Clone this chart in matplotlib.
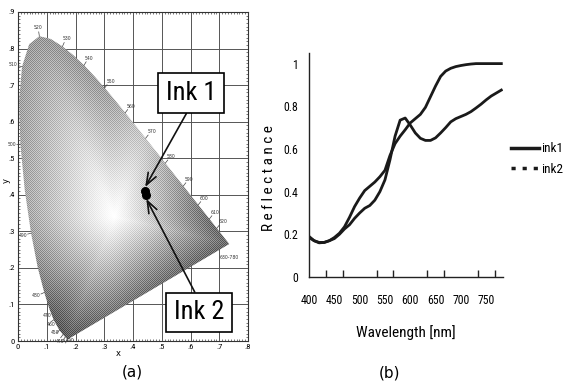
import numpy as np
import matplotlib
matplotlib.use('Agg')
import matplotlib.pyplot as plt
from matplotlib import font_manager
from matplotlib.path import Path
from matplotlib.patches import PathPatch
from matplotlib.lines import Line2D

# CIE 1931 spectral locus (xy chromaticity)
locus_nm = [380, 390, 400, 410, 420, 430, 440, 450, 460, 470, 475, 480, 485, 490, 495,
            500, 505, 510, 515, 520, 525, 530, 535, 540, 545, 550, 555, 560, 565, 570,
            575, 580, 585, 590, 595, 600, 610, 620, 630, 640, 650, 660, 680, 700]
locus_x = [0.1741, 0.1738, 0.1733, 0.1726, 0.1714, 0.1689, 0.1644, 0.1566, 0.1440, 0.1241,
           0.1096, 0.0913, 0.0687, 0.0454, 0.0235, 0.0082, 0.0039, 0.0139, 0.0389, 0.0743,
           0.1142, 0.1547, 0.1929, 0.2296, 0.2658, 0.3016, 0.3373, 0.3731, 0.4087, 0.4441,
           0.4788, 0.5125, 0.5448, 0.5752, 0.6029, 0.6270, 0.6658, 0.6915, 0.7079, 0.7190,
           0.7260, 0.7300, 0.7334, 0.7347]
locus_y = [0.0050, 0.0049, 0.0048, 0.0048, 0.0051, 0.0069, 0.0109, 0.0177, 0.0297, 0.0578,
           0.0868, 0.1327, 0.2007, 0.2950, 0.4127, 0.5384, 0.6548, 0.7502, 0.8120, 0.8338,
           0.8262, 0.8059, 0.7816, 0.7543, 0.7243, 0.6923, 0.6589, 0.6245, 0.5896, 0.5547,
           0.5202, 0.4866, 0.4544, 0.4242, 0.3965, 0.3725, 0.3340, 0.3083, 0.2920, 0.2809,
           0.2740, 0.2700, 0.2666, 0.2653]
label_nm = [480, 490, 500, 510, 520, 530, 540, 550, 560, 570, 580, 590, 600, 610, 620]
blue_nm = [470, 460, 450, 440, 420]

# measured ink chromaticities
ink_x = [0.440, 0.444]
ink_y = [0.410, 0.400]

# reflectance spectra
wavelength = [400, 410, 420, 430, 440, 450, 460, 470, 480, 490, 500, 510, 520, 530, 540,
              550, 560, 570, 580, 590, 600, 610, 620, 630, 640, 650, 660, 670, 680, 690,
              700, 710, 720, 730, 740, 750, 760, 770, 780]
ink1 = [0.190, 0.170, 0.162, 0.162, 0.170, 0.185, 0.205, 0.235, 0.280, 0.330, 0.370,
        0.405, 0.425, 0.445, 0.470, 0.500, 0.570, 0.625, 0.660, 0.690, 0.722, 0.742,
        0.762, 0.795, 0.845, 0.895, 0.940, 0.965, 0.978, 0.986, 0.991, 0.995, 0.998,
        1.0, 1.0, 1.0, 1.0, 1.0, 1.0]
ink2 = [0.185, 0.170, 0.160, 0.162, 0.170, 0.180, 0.200, 0.225, 0.245, 0.275, 0.300,
        0.322, 0.335, 0.360, 0.400, 0.455, 0.550, 0.660, 0.735, 0.745, 0.712, 0.675,
        0.650, 0.640, 0.640, 0.652, 0.675, 0.700, 0.727, 0.742, 0.752, 0.762, 0.775,
        0.792, 0.810, 0.830, 0.848, 0.862, 0.876]
series_names = ['ink1', 'ink2']


def pick_narrow():
    have = {(f.name, f.stretch) for f in font_manager.fontManager.ttflist}
    names = {n for n, _ in have}
    for fam in ['Liberation Sans Narrow', 'Roboto Condensed', 'Arial Narrow']:
        if fam in names:
            return fam, 'normal'
    for n, s in have:
        if n == 'DejaVu Sans' and 'condensed' in str(s):
            return 'DejaVu Sans', 'condensed'
    return 'Roboto', 'normal'


NARROW, STRETCH = pick_narrow()


def narrow(size):
    return font_manager.FontProperties(family=NARROW, stretch=STRETCH, size=size)


def chroma_gray(x, y):
    # grey value of the brightest sRGB colour at each chromaticity
    y = np.maximum(y, 1e-4)
    X = x / y
    Z = (1 - x - y) / y
    M = np.array([[3.2406, -1.5372, -0.4986],
                  [-0.9689, 1.8758, 0.0415],
                  [0.0557, -0.2040, 1.0570]])
    rgb = np.tensordot(M, np.stack([X, np.ones_like(X), Z]), axes=1)
    rgb = np.clip(rgb, 0, None)
    rgb = rgb / np.maximum(rgb.max(axis=0), 1e-9)
    rgb = np.where(rgb <= 0.0031308, 12.92 * rgb, 1.055 * rgb ** (1 / 2.4) - 0.055)
    return 0.299 * rgb[0] + 0.587 * rgb[1] + 0.114 * rgb[2]


def diagram_gray(gx, gy, bx, by):
    # blend from white at the white point to a smoothed edge grey along each ray
    wx, wy = 0.335, 0.34
    seg_x, seg_y = [], []
    for i in range(len(bx)):
        j = (i + 1) % len(bx)
        seg_x.append(np.linspace(bx[i], bx[j], 30, endpoint=False))
        seg_y.append(np.linspace(by[i], by[j], 30, endpoint=False))
    ex, ey = np.concatenate(seg_x), np.concatenate(seg_y)
    ang = np.arctan2(ey - wy, ex - wx)
    rad = np.hypot(ex - wx, ey - wy)
    eg = 0.2 + 0.68 * chroma_gray(ex, ey)
    order = np.argsort(ang)
    ang, rad, eg = ang[order], rad[order], eg[order]
    grid = np.linspace(-np.pi, np.pi, 721)
    a2 = np.concatenate([ang - 2 * np.pi, ang, ang + 2 * np.pi])
    g_edge = np.interp(grid, a2, np.tile(eg, 3))
    k = np.hanning(81)
    k /= k.sum()
    g_edge = np.convolve(np.concatenate([g_edge[-40:], g_edge, g_edge[:40]]), k, 'valid')
    th = np.arctan2(gy - wy, gx - wx)
    R = np.interp(th, a2, np.tile(rad, 3))
    G = np.interp(th, grid, g_edge)
    t = np.clip(np.hypot(gx - wx, gy - wy) / R, 0, 1)
    g = 1 - (1 - G) * t ** 1.05
    # fine checker texture like the printed halftone
    ii, jj = np.indices(g.shape)
    checker = ((ii + jj) % 2) * 2 - 1
    return np.clip(g + 0.45 * g * (1 - g) * checker, 0, 1)


fig = plt.figure(figsize=(5.65, 3.91), dpi=100)

# ---------- (a) chromaticity diagram ----------
# axes placed on whole pixels so the halftone image maps 1:1
ax1 = fig.add_axes([18 / 565, 50 / 391, 230 / 565, 329 / 391])
ax1.set_xlim(0, 0.8)
ax1.set_ylim(0, 0.9)
ax1.set_xticks(np.arange(0, 0.81, 0.1))
ax1.set_yticks(np.arange(0, 0.91, 0.1))
ax1.set_xticklabels(['0', '.1', '.2', '.3', '.4', '.5', '.6', '.7', '.8'])
ax1.set_yticklabels(['0', '.1', '.2', '.3', '.4', '.5', '.6', '.7', '.8', '.9'])
ax1.set_xticks(np.arange(0, 0.8, 0.01), minor=True)
ax1.set_yticks(np.arange(0, 0.9, 0.01), minor=True)
ax1.tick_params(which='major', length=0, pad=2)
ax1.tick_params(which='minor', direction='in', length=1.5, width=0.5,
                top=True, right=True, color='#444444')
for lab in ax1.get_xticklabels() + ax1.get_yticklabels():
    lab.set_fontproperties(narrow(6))
ax1.grid(True, color='#555555', lw=0.7)
ax1.set_axisbelow(True)
for sp in ax1.spines.values():
    sp.set_linewidth(0.8)
    sp.set_color('#333333')

lx = np.array(locus_x)
ly = np.array(locus_y)
verts = np.column_stack([np.append(lx, lx[0]), np.append(ly, ly[0])])
clip = PathPatch(Path(verts), transform=ax1.transData, facecolor='none', edgecolor='none')
ax1.add_patch(clip)
gx, gy = np.meshgrid(np.linspace(0, 0.8, 230), np.linspace(0, 0.9, 329))
im = ax1.imshow(diagram_gray(gx, gy, lx, ly), extent=[0, 0.8, 0, 0.9], origin='lower',
                cmap='gray', vmin=0, vmax=1, aspect='auto', interpolation='nearest',
                zorder=2)
im.set_clip_path(clip)

# wavelength ticks and labels along the locus
cx, cy = 0.333, 0.333
for nm in label_nm + blue_nm:
    px = np.interp(nm, locus_nm, locus_x)
    py = np.interp(nm, locus_nm, locus_y)
    dx = np.interp(nm + 2, locus_nm, locus_x) - np.interp(nm - 2, locus_nm, locus_x)
    dy = np.interp(nm + 2, locus_nm, locus_y) - np.interp(nm - 2, locus_nm, locus_y)
    nx, ny = dy, -dx
    n = np.hypot(nx, ny)
    nx, ny = nx / n, ny / n
    if nx * (px - cx) + ny * (py - cy) < 0:
        nx, ny = -nx, -ny
    ax1.plot([px, px + 0.012 * nx], [py, py + 0.012 * ny], color='#444444', lw=0.5,
             zorder=3, clip_on=False)
    if nm in label_nm:
        ax1.text(px + 0.03 * nx, py + 0.025 * ny, str(nm), fontsize=3.3, color='#333333',
                 ha='center', va='center', zorder=3)
# crowded blue end: stair-step the labels
for i, nm in enumerate(blue_nm):
    tx = 0.10 + 0.015 * i if nm != 420 else 0.183
    ty = 0.07 - 0.024 * i if nm != 420 else 0.0
    ax1.text(tx, ty, str(nm), fontsize=3.3, color='#333333', ha='center', va='center',
             zorder=3)
ax1.text(0.735, 0.225, '630-780', fontsize=3.3, color='#333333', ha='center', zorder=3)

ax1.scatter(ink_x, ink_y, s=30, color='black', zorder=5)
box = dict(boxstyle='square,pad=0.3', facecolor='white', edgecolor='black', lw=1.2)
ax1.annotate('Ink 1', xy=(ink_x[0], ink_y[0] + 0.008), xytext=(0.602, 0.678),
             fontproperties=narrow(19), ha='center', va='center', bbox=box, zorder=6,
             arrowprops=dict(arrowstyle='->,head_length=0.45,head_width=0.17',
                             color='#111111', lw=1.2, shrinkA=0, shrinkB=1,
                             relpos=(0.5, 0)))
ax1.annotate('Ink 2', xy=(ink_x[1], ink_y[1] - 0.008), xytext=(0.63, 0.078),
             fontproperties=narrow(19), ha='center', va='center', bbox=box, zorder=6,
             arrowprops=dict(arrowstyle='->,head_length=0.45,head_width=0.17',
                             color='#111111', lw=1.2, shrinkA=0, shrinkB=1,
                             relpos=(0.5, 1)))
ax1.text(0.348, -0.035, 'x', fontsize=6, ha='center', va='center')
ax1.text(-0.04, 0.44, 'y', fontsize=6, ha='center', va='center', rotation=90)

# ---------- (b) reflectance spectra ----------
ax2 = fig.add_axes([0.547, 0.2916, 0.343, 0.573])
ax2.plot(wavelength, ink2, color='#1a1a1a', lw=2.0)
ax2.plot(wavelength, ink1, color='#1a1a1a', lw=2.0)
ax2.set_xlim(400, 783)
ax2.set_ylim(0, 1.05)
ax2.spines['top'].set_visible(False)
ax2.spines['right'].set_visible(False)
for sp in ['left', 'bottom']:
    ax2.spines[sp].set_color('#222222')
    ax2.spines[sp].set_linewidth(1.0)
ax2.set_xticks(np.arange(400, 751, 50))
ax2.set_xticks(400 + np.arange(1, 12) * 100 / 3, minor=True)
ax2.set_yticks([0, 0.2, 0.4, 0.6, 0.8, 1.0])
ax2.set_yticklabels(['0', '0.2', '0.4', '0.6', '0.8', '1'])
ax2.tick_params(axis='x', which='major', length=0, pad=12.5)
ax2.tick_params(axis='x', which='minor', direction='in', length=5, width=1.0,
                color='#222222')
ax2.tick_params(axis='y', length=0, pad=8)
for lab in ax2.get_xticklabels() + ax2.get_yticklabels():
    lab.set_fontproperties(narrow(8.5))
ax2.set_xlabel('Wavelength [nm]', fontproperties=narrow(11))
ax2.xaxis.set_label_coords(0.5, -0.215)
ax2.set_ylabel('R e f l e c t a n c e', fontproperties=narrow(11))
ax2.yaxis.set_label_coords(-0.17, 0.44)

handles = [Line2D([], [], color='#1a1a1a', lw=2.5),
           Line2D([], [], color='#1a1a1a', lw=2.5, ls=(0, (1.2, 2.0)))]
fig.legend(handles, series_names, loc='center left', bbox_to_anchor=(0.905, 0.593),
           frameon=False, handlelength=2.1, handletextpad=0.15, labelspacing=0.6,
           borderpad=0, borderaxespad=0, prop=narrow(9.5))

fig.text(0.235, 0.048, '(a)', fontsize=11, ha='center', va='center')
fig.text(0.689, 0.045, '(b)', fontsize=11, ha='center', va='center')

fig.savefig('out.png', dpi=100)
